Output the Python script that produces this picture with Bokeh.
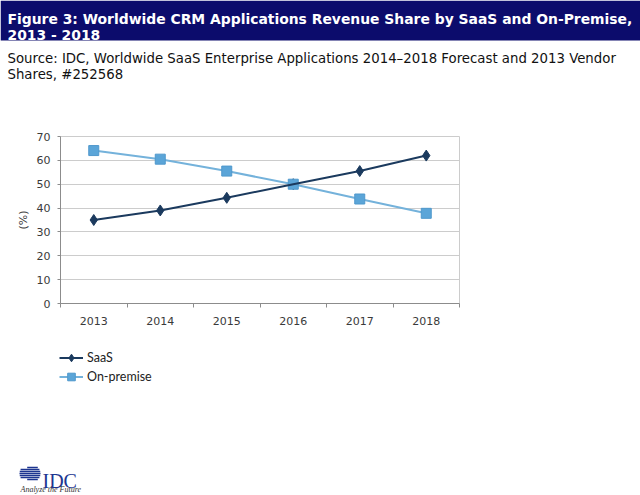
from bokeh.plotting import figure
from bokeh.models import Range1d, FixedTicker, Legend, LegendItem
from bokeh.layouts import column
from bokeh.core.properties import value
from bokeh.embed import file_html
from bokeh.resources import INLINE
import math

# ---------------- data ----------------
years = ["2013", "2014", "2015", "2016", "2017", "2018"]
saas = [35.0, 39.0, 44.3, 50.0, 55.5, 62.0]
on_premise = [64.1, 60.5, 55.5, 50.0, 43.8, 37.8]
y_ticks = [0, 10, 20, 30, 40, 50, 60, 70]
series_names = ["SaaS", "On-premise"]
title_lines = ["Figure 3: Worldwide CRM Applications Revenue Share by SaaS and On-Premise,",
               "2013 - 2018"]
source_lines = ["Source: IDC, Worldwide SaaS Enterprise Applications 2014\u20132018 Forecast and 2013 Vendor",
                "Shares, #252568"]
y_label = "(%)"
logo_text = "IDC"
logo_tagline = "Analyze the Future"

# ---------------- styles ----------------
W = 640
NAVY_BANNER = "#0c0c6c"
SAAS_COLOR = "#1b3a5e"
ONP_MARKER = "#5ba5d8"
ONP_LINE = "#74b2db"
GRID = "#cccccc"
AXIS = "#8c8c8c"
TICK_TEXT = "#3a3a3a"


def blank(h):
    f = figure(width=W, height=h, x_range=Range1d(0, W), y_range=Range1d(h, 0),
               output_backend="svg", toolbar_location=None,
               x_axis_location=None, y_axis_location=None, min_border=0)
    f.grid.visible = False
    f.outline_line_color = None
    f.frame_align = False
    return f


# ---------------- header ----------------
HEADER_H = 88
header = blank(HEADER_H)
header.quad(left=[0], right=[W], top=[0], bottom=[40], fill_color=NAVY_BANNER, line_color=None)
header.text(x=[7, 7], y=[18.5, 34.5], text=title_lines, text_font=value("DejaVu Sans"),
            text_font_style="bold", text_font_size="13.9px", text_color="white",
            text_baseline="alphabetic", text_align="left")
header.text(x=[7, 7], y=[57.5, 73.5], text=source_lines, text_font=value("DejaVu Sans"),
            text_font_size="13.3px", text_color="#111111",
            text_baseline="alphabetic", text_align="left")

# ---------------- main chart ----------------
x = list(range(len(years)))
p = figure(width=W, height=252,
           x_range=Range1d(-0.5, len(years) - 0.5), y_range=Range1d(0, 70),
           output_backend="svg", toolbar_location=None,
           min_border_left=60, min_border_right=181, min_border_top=48, min_border_bottom=37)
p.outline_line_color = GRID
p.xgrid.visible = False
p.ygrid.grid_line_color = GRID
p.ygrid.grid_line_width = 1

p.xaxis.ticker = FixedTicker(ticks=x, minor_ticks=[i - 0.5 for i in range(len(years) + 1)])
p.xaxis.major_label_overrides = {i: yr for i, yr in enumerate(years)}
p.xaxis.major_tick_in = 0
p.xaxis.major_tick_out = 0
p.xaxis.minor_tick_in = 0
p.xaxis.minor_tick_out = 4
p.xaxis.minor_tick_line_color = AXIS
p.xaxis.major_label_standoff = 9

p.yaxis.ticker = FixedTicker(ticks=y_ticks)
p.yaxis.major_tick_in = 0
p.yaxis.major_tick_out = 3
p.yaxis.minor_tick_out = 0
p.yaxis.minor_tick_in = 0
p.yaxis.major_label_standoff = 7
p.yaxis.axis_label = y_label
p.yaxis.axis_label_standoff = 4
p.yaxis.axis_label_text_font = "DejaVu Sans"
p.yaxis.axis_label_text_font_style = "normal"
p.yaxis.axis_label_text_font_size = "11px"
p.yaxis.axis_label_text_color = TICK_TEXT

for ax in (p.xaxis, p.yaxis):
    ax.axis_line_color = AXIS
    ax.major_tick_line_color = AXIS
    ax.major_label_text_font = "DejaVu Sans"
    ax.major_label_text_font_size = "11px"
    ax.major_label_text_color = TICK_TEXT

p.scatter(x, saas, marker="diamond", size=11, fill_color=SAAS_COLOR, line_color=SAAS_COLOR)
p.line(x, on_premise, line_color=ONP_LINE, line_width=2)
p.scatter(x, on_premise, marker="square", size=10, fill_color=ONP_MARKER, line_color="#4f98cc")
p.line(x, saas, line_color=SAAS_COLOR, line_width=2)

# ---------------- footer (legend + logo) ----------------
FOOTER_H = 495 - HEADER_H - 252
footer = blank(FOOTER_H)
# legend proxies (placed off-canvas), styled like the series
off = [-1000.0]
lg_saas_l = footer.line(off, off, line_color=SAAS_COLOR, line_width=2)
lg_saas_m = footer.scatter(off, off, marker="diamond", size=6, fill_color=SAAS_COLOR, line_color=SAAS_COLOR)
lg_onp_l = footer.line(off, off, line_color=ONP_LINE, line_width=2)
lg_onp_m = footer.scatter(off, off, marker="square", size=7, fill_color=ONP_MARKER, line_color="#4f98cc")
legend = Legend(items=[LegendItem(label=series_names[0], renderers=[lg_saas_l, lg_saas_m]),
                       LegendItem(label=series_names[1], renderers=[lg_onp_l, lg_onp_m])],
                location=(59, FOOTER_H - 45.5), orientation="vertical", padding=0, spacing=0, margin=0,
                label_height=19, glyph_height=19, glyph_width=24, label_standoff=4,
                border_line_alpha=0, background_fill_alpha=0,
                label_text_font="Lato", label_text_font_size="12.5px", label_text_color="#222222")
footer.add_layout(legend, "center")

cx, cy, r = 32.0, 133.0, 8.0
ys, x0s, x1s = [], [], []
for k in range(9):
    dy = -8 + 2 * k
    half = math.sqrt(max(r * r - dy * dy, 0.0))
    ys.append(cy + dy)
    x0s.append(cx - half - (5 if abs(dy) <= 4 else 0))
    x1s.append(cx + half)
footer.segment(x0=x0s, y0=ys, x1=x1s, y1=ys, line_color="#1d3590", line_width=1.5)
footer.text(x=[42], y=[140], text=[logo_text], text_font=value("Liberation Serif"),
            text_font_size="20px", text_color="#1d3590", text_baseline="alphabetic")
footer.text(x=[20], y=[149], text=[logo_tagline], text_font=value("Liberation Serif"),
            text_font_style="italic", text_font_size="8px", text_color="#333333",
            text_baseline="alphabetic")

layout = column(header, p, footer, spacing=0)
open("out.html", "w").write(file_html(layout, INLINE))
